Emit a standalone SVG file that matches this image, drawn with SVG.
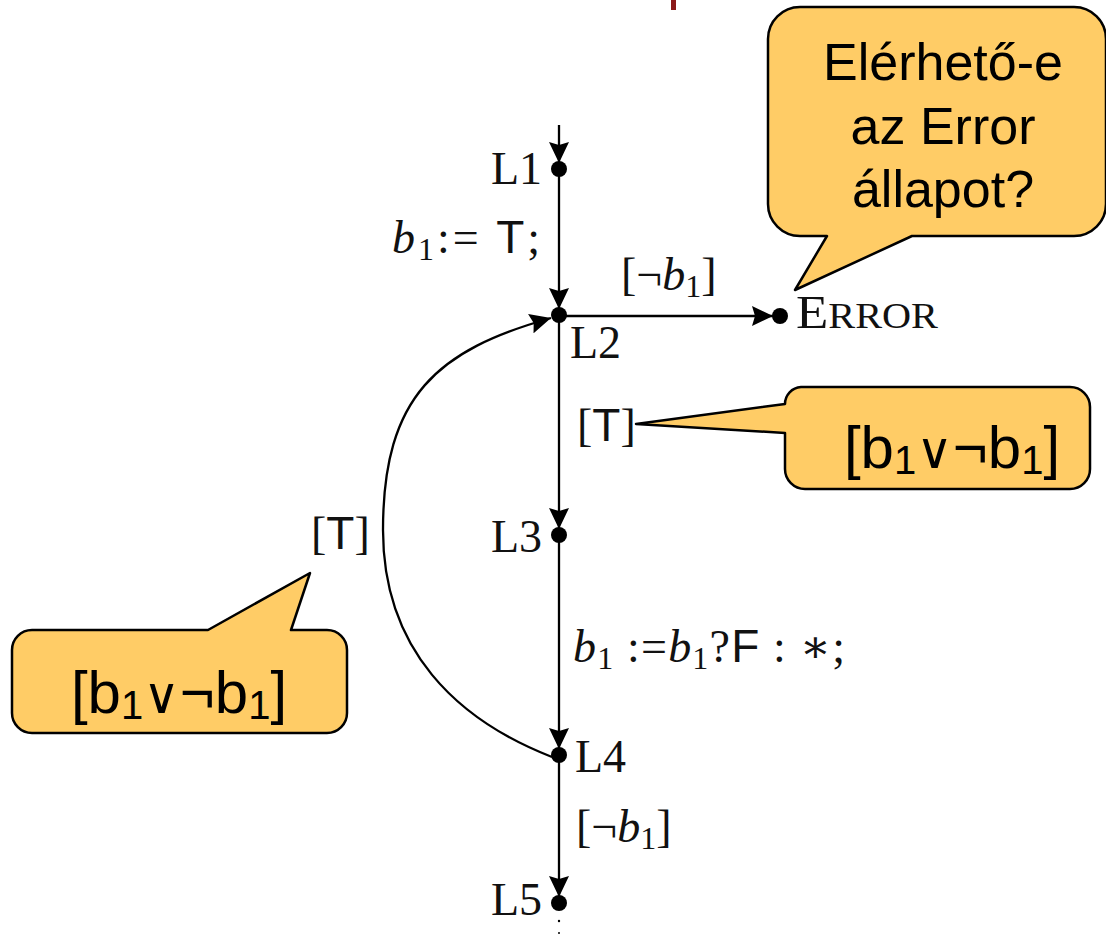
<svg xmlns="http://www.w3.org/2000/svg" width="1106" height="935" viewBox="0 0 1106 935">
<style>
.edge{fill:none;stroke:#000;stroke-width:2.3}
.dot{fill:#000}
.lbl{font-family:"Liberation Serif","DejaVu Serif",serif;font-size:46px;fill:#111}
.it{font-style:italic}
.sf{font-family:"Liberation Sans","DejaVu Sans",sans-serif}
.call{fill:#FFCC66;stroke:#000;stroke-width:2.5;stroke-linejoin:round}
.ct{font-family:"Liberation Sans","DejaVu Sans",sans-serif;fill:#000;text-anchor:middle}
.or{font-family:"DejaVu Sans",sans-serif;font-size:50px}
</style>
<defs>
<marker id="ah" markerUnits="userSpaceOnUse" markerWidth="24" markerHeight="20" refX="21" refY="10" orient="auto">
<path d="M0,0 L21,10 L0,20 L3,10 Z" fill="#000"/>
</marker>
</defs>
<rect x="671" y="0" width="5" height="10" fill="#8B1A1A"/>
<g id="connectors">
<line class="edge" x1="559" y1="125" x2="559" y2="163" marker-end="url(#ah)"/>
<line class="edge" x1="559" y1="169" x2="559" y2="309" marker-end="url(#ah)"/>
<line class="edge" x1="559" y1="315" x2="559" y2="529" marker-end="url(#ah)"/>
<line class="edge" x1="559" y1="535" x2="559" y2="749" marker-end="url(#ah)"/>
<line class="edge" x1="559" y1="755" x2="559" y2="897" marker-end="url(#ah)"/>
<line class="edge" x1="559" y1="316" x2="773" y2="316" marker-end="url(#ah)"/>
<path class="edge" d="M552,757 C457,720 383,650 383,530 C383,395 438,350 551,318" marker-end="url(#ah)"/>
<circle class="dot" cx="559" cy="921" r="1.2"/>
<circle class="dot" cx="559" cy="933" r="1"/>
</g>
<g id="L1"><circle class="dot" cx="559" cy="169" r="8"/><text class="lbl" x="542" y="184" text-anchor="end">L1</text></g>
<g id="L2"><circle class="dot" cx="559" cy="315" r="8"/><text class="lbl" x="570" y="358">L2</text></g>
<g id="L3"><circle class="dot" cx="559" cy="535" r="8"/><text class="lbl" x="542" y="552" text-anchor="end">L3</text></g>
<g id="L4"><circle class="dot" cx="559" cy="755" r="8"/><text class="lbl" x="575" y="772">L4</text></g>
<g id="L5"><circle class="dot" cx="559" cy="903" r="8"/><text class="lbl" x="542" y="915" text-anchor="end">L5</text></g>
<g id="ERROR"><circle class="dot" cx="780" cy="316" r="8"/><text class="lbl" x="796" y="328" textLength="142" lengthAdjust="spacingAndGlyphs">E<tspan font-size="35">RROR</tspan></text></g>
<g id="labels">
<text class="lbl" x="392" y="253" textLength="148" lengthAdjust="spacing"><tspan class="it">b</tspan><tspan font-size="32" dy="7">1</tspan><tspan dy="-7">:= </tspan><tspan class="sf">T</tspan>;</text>
<text class="lbl" x="621" y="290">[¬<tspan class="it">b</tspan><tspan font-size="32" dy="7">1</tspan><tspan dy="-7">]</tspan></text>
<text class="lbl" x="577" y="441">[<tspan class="sf">T</tspan>]</text>
<text class="lbl" x="311" y="549">[<tspan class="sf">T</tspan>]</text>
<text class="lbl" x="573" y="662" textLength="272" lengthAdjust="spacing"><tspan class="it">b</tspan><tspan font-size="32" dy="7">1</tspan><tspan dy="-7"> :=</tspan><tspan class="it">b</tspan><tspan font-size="32" dy="7">1</tspan><tspan dy="-7">?</tspan><tspan class="sf">F</tspan> : ∗;</text>
<text class="lbl" x="576" y="842">[¬<tspan class="it">b</tspan><tspan font-size="32" dy="7">1</tspan><tspan dy="-7">]</tspan></text>
</g>
<g id="callout-error">
<path class="call" d="M800,7 H1074 A32,32 0 0 1 1106,39 V204 A32,32 0 0 1 1074,236 H912 L795,290 L827,236 H800 A32,32 0 0 1 768,204 V39 A32,32 0 0 1 800,7 Z"/>
<text class="ct" font-size="52" x="943" y="80">Elérhető-e</text>
<text class="ct" font-size="52" x="943" y="144">az Error</text>
<text class="ct" font-size="52" x="943" y="207">állapot?</text>
</g>
<g id="callout-right">
<path class="call" d="M801,387 H1070 A20,20 0 0 1 1090,407 V469 A20,20 0 0 1 1070,489 H805 A20,20 0 0 1 785,469 V433 L636,424 L785,404 A17,17 0 0 1 801,387 Z"/>
<text class="ct" font-size="60" x="952" y="468">[b<tspan font-size="40" dy="6">1</tspan><tspan class="or" dy="-6">∨</tspan>¬b<tspan font-size="40" dy="6">1</tspan><tspan dy="-6">]</tspan></text>
</g>
<g id="callout-left">
<path class="call" d="M32,630 H208 L310,573 L291,630 H327 A20,20 0 0 1 347,650 V713 A20,20 0 0 1 327,733 H32 A20,20 0 0 1 12,713 V650 A20,20 0 0 1 32,630 Z"/>
<text class="ct" font-size="60" x="179" y="713">[b<tspan font-size="40" dy="6">1</tspan><tspan class="or" dy="-6">∨</tspan>¬b<tspan font-size="40" dy="6">1</tspan><tspan dy="-6">]</tspan></text>
</g>
</svg>
